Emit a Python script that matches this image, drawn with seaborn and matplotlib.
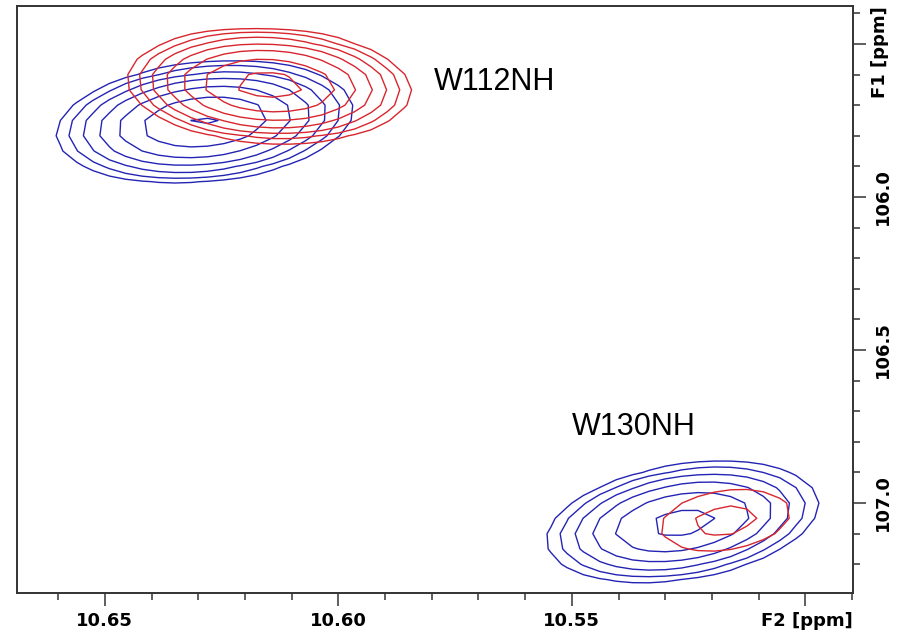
import numpy as np
import pandas as pd
import matplotlib
matplotlib.use("Agg")
import matplotlib.pyplot as plt
from matplotlib.ticker import MultipleLocator, FixedLocator, FixedFormatter
import seaborn as sns

# ---- data (peak list of two overlaid 1H-15N spectra) ----
spectrum = ["blue", "blue", "red", "red"]
peak_label = ["W112NH", "W130NH", "W112NH", "W130NH"]
shift_F2 = [10.6286, 10.5263, 10.6148, 10.5171]      # 1H, ppm
shift_F1 = [105.755, 107.062, 105.636, 107.056]      # 15N, ppm
intensity = [7.7, 5.95, 8.5, 1.565]
width_F2 = [0.0157, 0.0154, 0.01466, 0.0147]        # ppm
width_F1 = [0.098, 0.104, 0.090, 0.107]             # ppm
tilt_corr = [0.20, 0.30, -0.10, 0.25]
contour_levels = [1.00, 1.40, 1.96, 2.74, 3.84, 5.38, 7.53]

annot_text = ["W112NH", "W130NH"]
annot_F2 = [10.5795, 10.5500]
annot_F1 = [105.650, 106.778]

spectrum_colors = {"blue": "#2424b4", "red": "#d8262e"}

peaks = pd.DataFrame(dict(spectrum=spectrum, label=peak_label, f2=shift_F2, f1=shift_F1,
                          amp=intensity, w2=width_F2, w1=width_F1, rho=tilt_corr))

# digital resolution of the spectra
f2_axis = np.arange(10.46, 10.70, 0.0035)
f1_axis = np.arange(105.20, 107.50, 0.05)
X, Y = np.meshgrid(f2_axis, f1_axis)

sns.set_theme(style="white")
plt.rcParams["font.family"] = ["DejaVu Sans"]

fig = plt.figure(figsize=(9, 6.34), dpi=100)
ax = fig.add_axes([17 / 900, 1 - 593 / 634, (853 - 17) / 900, (593 - 6) / 634])

for name, grp in peaks.groupby("spectrum"):
    Z = np.zeros_like(X)
    for _, p in grp.iterrows():
        u = (X - p.f2) / p.w2
        v = (Y - p.f1) / p.w1
        q = (u * u - 2 * p.rho * u * v + v * v) / (1 - p.rho ** 2)
        Z += p.amp * np.exp(-0.5 * q)
    ax.contour(X, Y, Z, levels=contour_levels, colors=spectrum_colors[name],
               linewidths=1.0, linestyles="solid")

for t, x, y in zip(annot_text, annot_F2, annot_F1):
    ax.text(x, y, t, fontsize=22, family="Liberation Sans", color="black",
            ha="left", va="baseline")

ax.set_xlim(10.6688, 10.4898)
ax.set_ylim(107.294, 105.376)

ax.xaxis.set_major_locator(FixedLocator([10.65, 10.60, 10.55, 10.50]))
ax.xaxis.set_major_formatter(FixedFormatter(["10.65", "10.60", "10.55", ""]))
ax.xaxis.set_minor_locator(MultipleLocator(0.01))
ax.yaxis.set_major_locator(FixedLocator([105.5, 106.0, 106.5, 107.0]))
ax.yaxis.set_major_formatter(FixedFormatter(["", "106.0", "106.5", "107.0"]))
ax.yaxis.set_minor_locator(MultipleLocator(0.1))

ax.yaxis.tick_right()
ax.tick_params(axis="x", which="both", bottom=True, top=False, direction="out",
               colors="#333333", labelcolor="black", labelsize=13, pad=5)
ax.tick_params(axis="y", which="both", right=True, left=False, direction="out",
               colors="#333333", labelcolor="black", labelsize=13, pad=6)
ax.tick_params(which="major", length=9, width=1.1)
ax.tick_params(which="minor", length=5, width=1.1)
for lab in ax.get_yticklabels():
    lab.set_rotation(90)
    lab.set_va("center")
for lab in ax.get_xticklabels() + ax.get_yticklabels():
    lab.set_fontweight("bold")

for s in ax.spines.values():
    s.set_color("#333333")
    s.set_linewidth(1.4)
    s.set_visible(True)

fig.text(853 / 900, 1 - 621 / 634, "F2 [ppm]", ha="right", va="center",
         fontsize=13, fontweight="bold", color="black")
fig.text(880 / 900, 1 - 6 / 634, "F1 [ppm]", ha="center", va="top", rotation=90,
         fontsize=13, fontweight="bold", color="black")

fig.patch.set_facecolor("white")
ax.set_facecolor("white")
fig.savefig("out.png", dpi=100, facecolor="white")
